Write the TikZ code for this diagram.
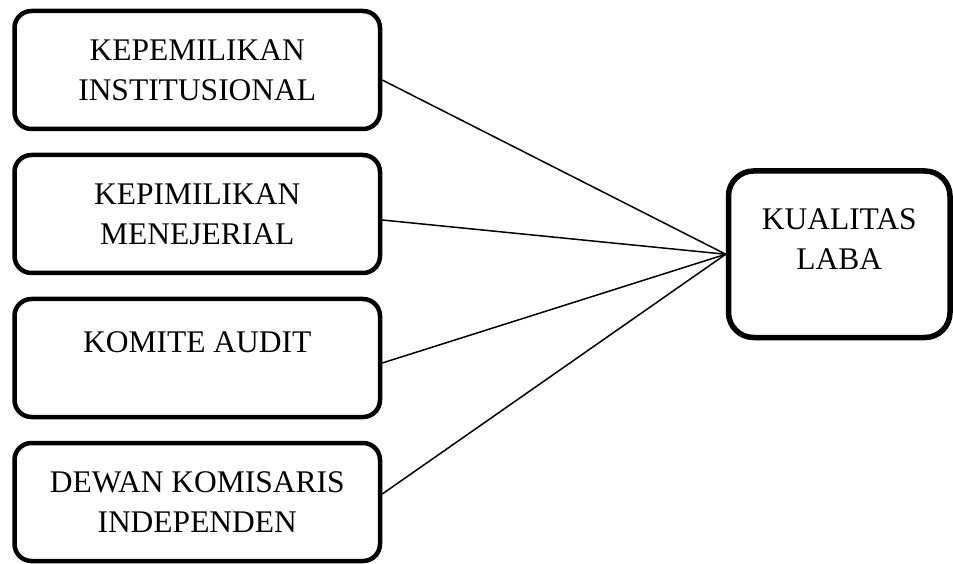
\documentclass[tikz,border=0pt]{standalone}
\usepackage{fontspec}
\setmainfont{Liberation Serif}
\usetikzlibrary{positioning}
\tikzset{
  VB/.style={rectangle,rounded corners=17pt,draw,line width=4.5pt,
             minimum width=365.5pt,minimum height=118pt,inner sep=0pt,
             align=center,font=\fontsize{31.5}{40}\selectfont},
  YB/.style={VB,rounded corners=25pt,line width=5.5pt,
             minimum width=221.5pt,minimum height=166.5pt},
  ln/.style={line width=1.5pt}
}

\begin{document}
\begin{tikzpicture}[x=1pt,y=1pt,node distance=21.5pt]
  \useasboundingbox (0,0) rectangle (953,563);
  \node[VB] (kpi) at (197.25,493) {KEPEMILIKAN\\INSTITUSIONAL};
  \node[VB,below=of kpi] (kpm) {KEPIMILIKAN\\MENEJERIAL};
  \node[VB,below=of kpm] (ka) {KOMITE AUDIT\\[-9pt]\mbox{}};
  \node[VB,below=of ka] (dki) {DEWAN KOMISARIS\\INDEPENDEN};
  \node[YB] (kl) at (839.25,308.75) {KUALITAS\\LABA\\[-9pt]\mbox{}};
  \draw[ln]([yshift=-10pt]kpi.east)--(kl.west);
  \draw[ln]([yshift=-6pt]kpm.east)--(kl.west);
  \draw[ln]([yshift=-5pt]ka.east)--(kl.west);
  \draw[ln]([yshift=8pt]dki.east)--(kl.west);
\end{tikzpicture}
\end{document}
